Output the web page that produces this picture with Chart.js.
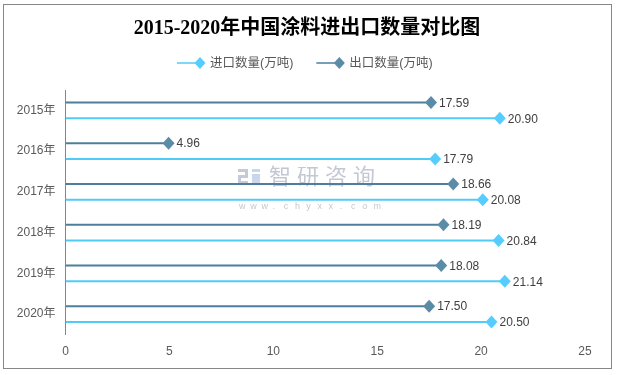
<!DOCTYPE html>
<html>
<head>
<meta charset="utf-8">
<script src="https://cdn.jsdelivr.net/npm/chart.js@4.4.1/dist/chart.umd.min.js"></script>
<style>
html, body { margin: 0; padding: 0; background: #fff; }
#wrap { position: relative; width: 617px; height: 375px; }
#frame { position: absolute; left: 3px; top: 4px; width: 607px; height: 363px; border: 1px solid #878787; pointer-events: none; }
</style>
</head>
<body>
<div id="wrap">
  <canvas id="chart" width="617" height="375"></canvas>
  <div id="frame"></div>
</div>
<script>
// data
const titleText = '2015-2020年中国涂料进出口数量对比图';
const categories = ['2015年', '2016年', '2017年', '2018年', '2019年', '2020年'];
const exportLabel = '出口数量(万吨)';
const importLabel = '进口数量(万吨)';
const exportValues = [17.59, 4.96, 18.66, 18.19, 18.08, 17.50];
const importValues = [20.90, 17.79, 20.08, 20.84, 21.14, 20.50];
const xTicks = [0, 5, 10, 15, 20, 25];

const exportLine = '#4d7f9c';
const exportMarker = '#5a8ca8';
const importLine = '#4fcbf7';
const importMarker = '#55cdff';
const markerColors = [exportMarker, importMarker];

const sansFont = '"Liberation Sans", "Noto Sans CJK SC", sans-serif';

function diamond(ctx, x, y, w, h, color) {
    ctx.fillStyle = color;
    ctx.beginPath();
    ctx.moveTo(x, y - h);
    ctx.lineTo(x + w, y);
    ctx.lineTo(x, y + h);
    ctx.lineTo(x - w, y);
    ctx.closePath();
    ctx.fill();
}

const decor = {
    id: 'decor',
    beforeDatasetsDraw(chart) {
        // watermark
        const ctx = chart.ctx;
        ctx.save();
        ctx.fillStyle = '#c3cad8';
        ctx.fillRect(238, 169, 10, 3);
        ctx.fillRect(245, 169, 3, 8);
        ctx.fillRect(238, 175, 10, 3);
        ctx.fillRect(238, 175, 3, 9);
        ctx.fillRect(238, 181, 10, 3);
        ctx.fillStyle = '#c9d7ee';
        ctx.fillRect(252, 169, 8, 3);
        ctx.fillRect(252, 174, 8, 10);
        ctx.fillStyle = '#c3c8d2';
        ctx.font = '22px "Noto Sans CJK SC", sans-serif';
        ctx.textBaseline = 'middle';
        '智研咨询'.split('').forEach((ch, i) => ctx.fillText(ch, 269 + i * 28, 176));
        ctx.font = '9px ' + sansFont;
        'www.chyxx.com'.split('').forEach((ch, i) => ctx.fillText(ch, 239 + i * 11.2, 207));
        ctx.restore();
    },
    afterDatasetsDraw(chart) {
        const ctx = chart.ctx;
        chart.data.datasets.forEach((ds, i) => {
            const meta = chart.getDatasetMeta(i);
            meta.data.forEach((bar, j) => {
                ctx.save();
                diamond(ctx, bar.x, bar.y, 6, 6.5, markerColors[i]);
                ctx.fillStyle = '#404040';
                ctx.font = '12px ' + sansFont;
                ctx.textBaseline = 'middle';
                ctx.fillText(ds.data[j].toFixed(2), bar.x + 8, bar.y + 1);
                ctx.restore();
            });
        });
    },
    afterDraw(chart) {
        const ctx = chart.ctx;
        ctx.save();
        // title
        ctx.fillStyle = '#000';
        ctx.font = 'bold 20px "Liberation Serif", "Noto Sans CJK SC", serif';
        ctx.textAlign = 'center';
        ctx.textBaseline = 'middle';
        ctx.fillText(titleText, 307, 29);
        // legend
        ctx.textAlign = 'left';
        ctx.font = '12.5px ' + sansFont;
        let x = 177;
        const y = 63;
        [1, 0].forEach(i => {
            const ds = chart.data.datasets[i];
            ctx.strokeStyle = ds.backgroundColor;
            ctx.lineWidth = 1.5;
            ctx.beginPath();
            ctx.moveTo(x, y);
            ctx.lineTo(x + 20, y);
            ctx.stroke();
            diamond(ctx, x + 23, y, 5.5, 6, markerColors[i]);
            ctx.fillStyle = '#595959';
            ctx.fillText(ds.label, x + 33, y + 1);
            x += 33 + ctx.measureText(ds.label).width + 23;
        });
        ctx.restore();
    }
};

new Chart(document.getElementById('chart'), {
    type: 'bar',
    data: {
        labels: categories,
        datasets: [
            { label: exportLabel, data: exportValues, backgroundColor: exportLine },
            { label: importLabel, data: importValues, backgroundColor: importLine }
        ]
    },
    options: {
        indexAxis: 'y',
        responsive: false,
        animation: false,
        categoryPercentage: 0.784,
        barPercentage: 0.125,
        layout: { padding: { top: 90, right: 32, bottom: 15.5, left: 0 } },
        plugins: {
            legend: { display: false },
            title: { display: false },
            tooltip: { enabled: false }
        },
        scales: {
            x: {
                min: 0,
                max: 25,
                afterBuildTicks(scale) { scale.ticks = xTicks.map(v => ({ value: v })); },
                grid: { display: false, drawTicks: false },
                border: { display: false },
                ticks: { padding: 10, color: '#595959', font: { size: 12, family: sansFont } },
                afterFit(scale) { scale.height = 25; }
            },
            y: {
                grid: { display: false, drawTicks: false },
                border: { display: true, color: '#868686', width: 1 },
                ticks: { padding: 10, color: '#595959', font: { size: 12, family: sansFont } },
                afterFit(scale) { scale.width = 65.5; }
            }
        }
    },
    plugins: [decor]
});
</script>
</body>
</html>
